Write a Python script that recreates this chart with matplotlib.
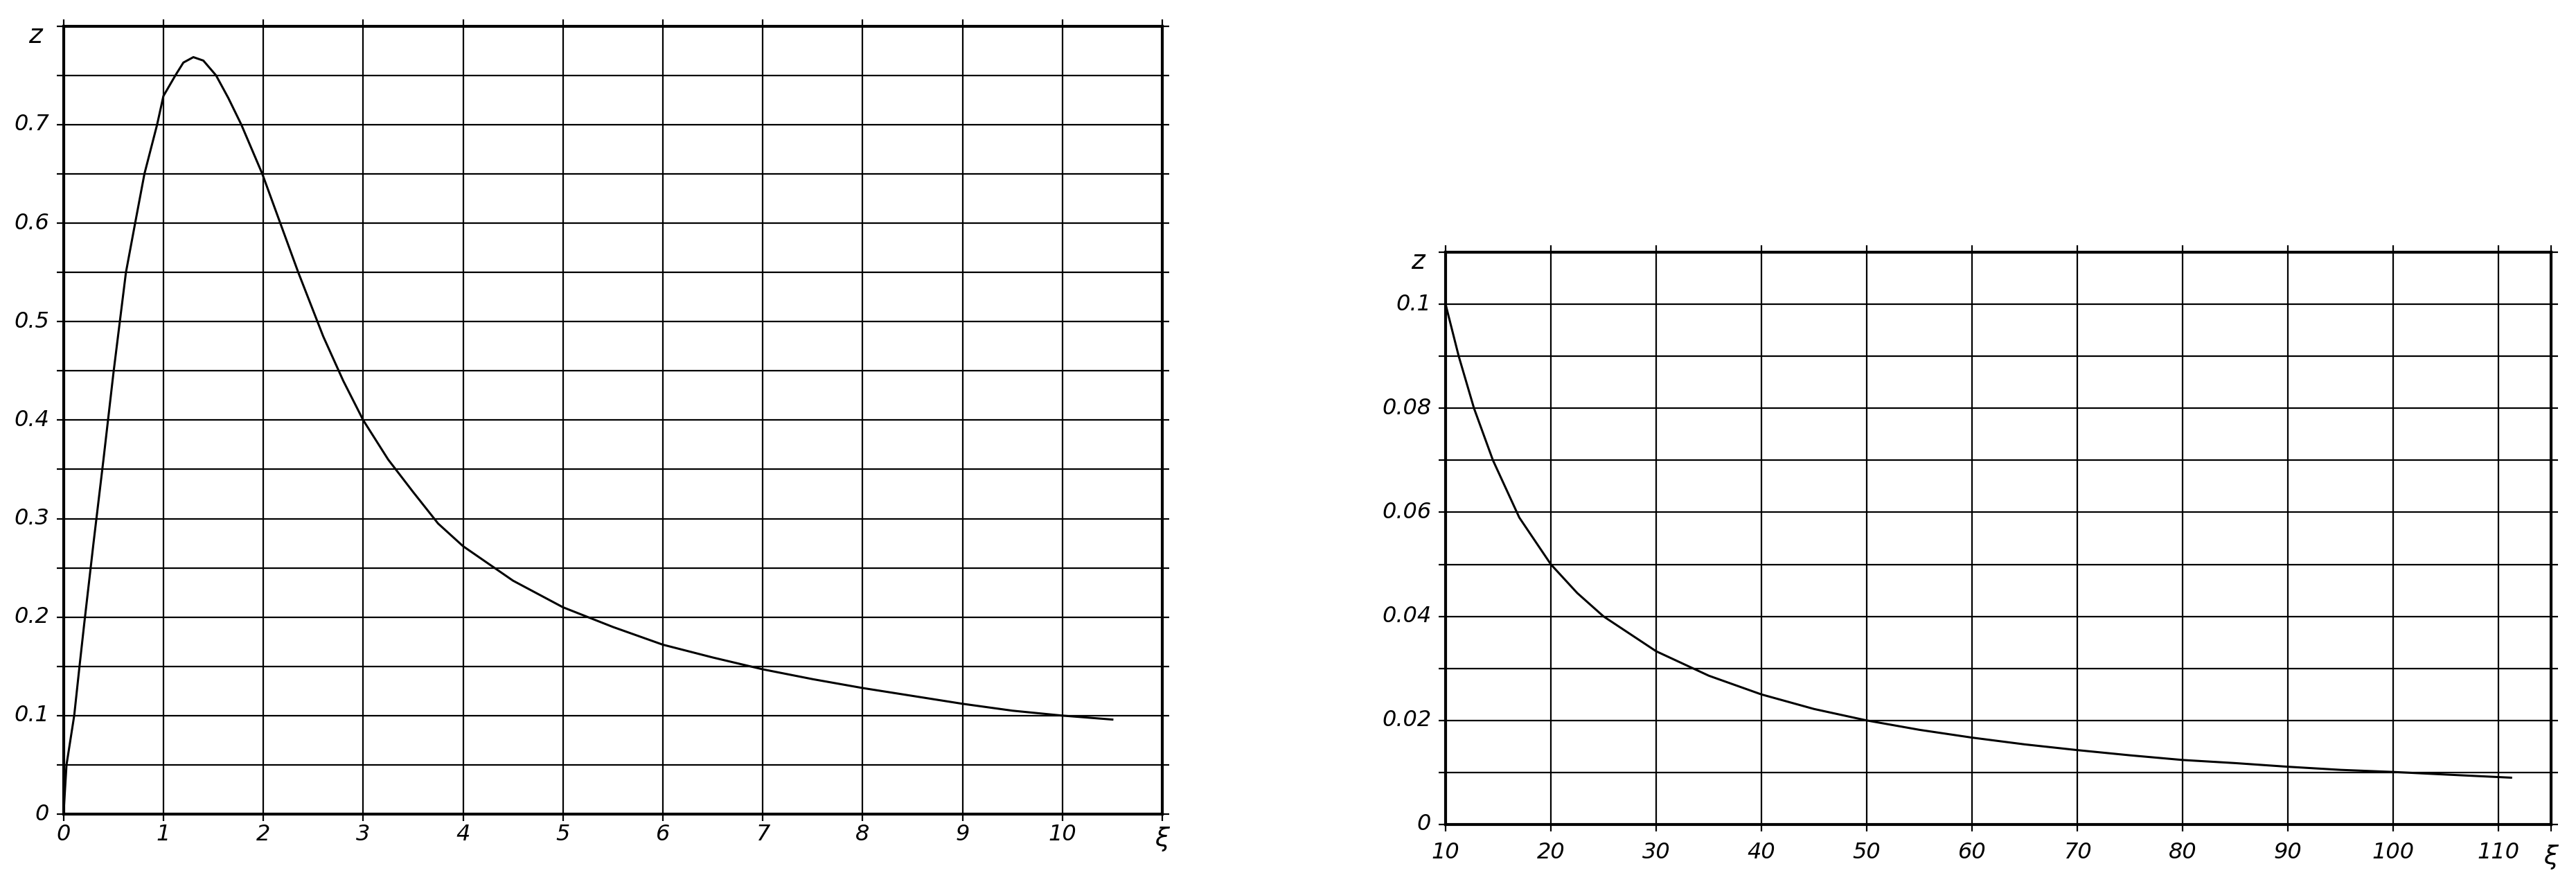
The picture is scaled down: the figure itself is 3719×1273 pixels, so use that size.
import matplotlib
matplotlib.use("Agg")
import matplotlib.pyplot as plt
import numpy as np
from matplotlib import font_manager

# ---------------- data ----------------
left_xi = [0, 0.03, 0.107, 0.16, 0.207, 0.3, 0.4, 0.5, 0.625, 0.717, 0.81, 0.937, 1.0,
           1.12, 1.2, 1.3, 1.4, 1.527, 1.65, 1.78, 1.99, 2.17, 2.35, 2.6, 2.8, 3.0,
           3.25, 3.5, 3.75, 4.0, 4.5, 5.0, 5.5, 6.0, 6.5, 7.0, 7.5, 8.0, 8.5, 9.0,
           9.5, 10.0, 10.5]
left_z = [0, 0.05, 0.10, 0.15, 0.193, 0.275, 0.36, 0.448, 0.55, 0.60, 0.65, 0.70, 0.729,
          0.75, 0.763, 0.7685, 0.765, 0.75, 0.727, 0.70, 0.65, 0.60, 0.55, 0.485, 0.44, 0.40,
          0.36, 0.327, 0.295, 0.272, 0.237, 0.21, 0.19, 0.172, 0.159, 0.147, 0.137, 0.128,
          0.12, 0.112, 0.105, 0.100, 0.096]

right_xi = [10, 11.25, 12.7, 14.5, 17, 20, 22.5, 25, 30, 35, 40, 45, 50, 55, 60, 65, 70,
            75, 80, 85, 90, 95, 100, 105, 111.2]
right_z = [0.100, 0.090, 0.080, 0.070, 0.059, 0.050, 0.0445, 0.040, 0.0333, 0.0286, 0.025,
           0.0222, 0.020, 0.0182, 0.0167, 0.0154, 0.0143, 0.0133, 0.0124, 0.0118, 0.0111,
           0.0105, 0.0101, 0.0096, 0.0090]

left_xticks = [0, 1, 2, 3, 4, 5, 6, 7, 8, 9, 10]
left_xlabels = ["0", "1", "2", "3", "4", "5", "6", "7", "8", "9", "10"]
left_yticks = [0, 0.1, 0.2, 0.3, 0.4, 0.5, 0.6, 0.7]
left_ylabels = ["0", "0.1", "0.2", "0.3", "0.4", "0.5", "0.6", "0.7"]

right_xticks = [10, 20, 30, 40, 50, 60, 70, 80, 90, 100, 110]
right_xlabels = ["10", "20", "30", "40", "50", "60", "70", "80", "90", "100", "110"]
right_yticks = [0, 0.02, 0.04, 0.06, 0.08, 0.1]
right_ylabels = ["0", "0.02", "0.04", "0.06", "0.08", "0.1"]

# ---------------- style ----------------
names = {f.name for f in font_manager.fontManager.ttflist}
fam = "Liberation Sans Narrow" if "Liberation Sans Narrow" in names else "DejaVu Sans"
plt.rcParams['font.family'] = [fam, 'DejaVu Sans']

W, H = 3719, 1273
fig = plt.figure(figsize=(W / 100, H / 100), dpi=100)
fig.patch.set_facecolor("white")

GRID_LW = 1.6
BORDER_LW = 3.0
CURVE_LW = 2.2
FS = 23


def setup(ax, xlim, ylim, xgrid, ygrid, yticks, ylabels, xticks, xlabels, xpad):
    ax.set_xlim(*xlim)
    ax.set_ylim(*ylim)
    for x in xgrid:
        ax.axvline(x, color="black", lw=GRID_LW, zorder=1)
    for y in ygrid:
        ax.axhline(y, color="black", lw=GRID_LW, zorder=1)
    for s in ax.spines.values():
        s.set_linewidth(BORDER_LW)
        s.set_color("black")
    ax.set_xticks(list(xgrid) + [xlim[0], xlim[1]])
    ax.set_yticks(list(ygrid) + [ylim[0], ylim[1]])
    ax.tick_params(axis="both", which="both", direction="out", length=7, width=GRID_LW,
                   top=True, right=True, labelbottom=False, labelleft=False,
                   color="black")
    for xv, lab in zip(xticks, xlabels):
        ax.annotate(lab, xy=(xv, 0), xycoords=ax.get_xaxis_transform(), xytext=(0, -xpad),
                    textcoords="offset points", ha="center", va="top",
                    fontsize=FS, style="italic")
    for yv, lab in zip(yticks, ylabels):
        ax.annotate(lab, xy=(0, yv), xycoords=ax.get_yaxis_transform(), xytext=(-15, 0),
                    textcoords="offset points", ha="right", va="center",
                    fontsize=FS, style="italic")


# Left chart
axL = fig.add_axes([91.7 / W, 1 - 1175 / H, (1678 - 91.7) / W, (1175 - 37.7) / H])
setup(axL, (0, 11), (0, 0.8), np.arange(1, 11), np.arange(0.05, 0.8, 0.05),
      left_yticks, left_ylabels, left_xticks, left_xlabels, 10)
axL.plot(left_xi, left_z, color="black", lw=CURVE_LW, zorder=3)
axL.annotate("z", xy=(0, 0.8), xycoords="data", xytext=(-22, -10), textcoords="offset points",
             ha="right", va="center", fontsize=FS + 4, style="italic")
axL.annotate("ξ", xy=(11, 0), xycoords="data", xytext=(0, -13), textcoords="offset points",
             ha="center", va="top", fontsize=FS + 4, style="italic")

# Right chart
axR = fig.add_axes([2087 / W, 1 - 1190 / H, (3683 - 2087) / W, (1190 - 364) / H])
setup(axR, (10, 115), (0, 0.11), np.arange(20, 111, 10), np.arange(0.01, 0.11, 0.01),
      right_yticks, right_ylabels, right_xticks, right_xlabels, 18)
axR.plot(right_xi, right_z, color="black", lw=CURVE_LW, zorder=3)
axR.annotate("z", xy=(10, 0.11), xycoords="data", xytext=(-22, -10), textcoords="offset points",
             ha="right", va="center", fontsize=FS + 4, style="italic")
axR.annotate("ξ", xy=(115, 0), xycoords="data", xytext=(0, -21), textcoords="offset points",
             ha="center", va="top", fontsize=FS + 4, style="italic")

fig.savefig("out.png", dpi=100, facecolor="white")
